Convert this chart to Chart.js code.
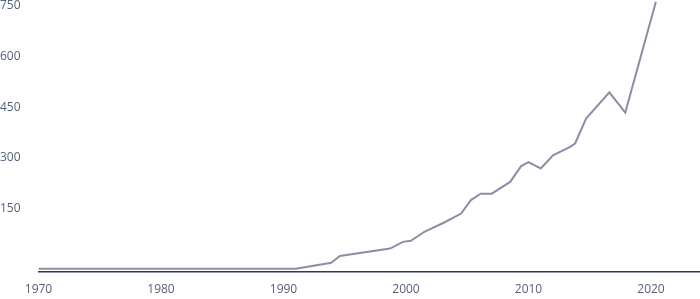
<!DOCTYPE html>
<html>
<head>
<meta charset="utf-8">
<script src="https://cdn.jsdelivr.net/npm/chart.js@4.4.1/dist/chart.umd.min.js"></script>
<style>
  html, body { margin: 0; padding: 0; background: #fff; }
  #wrap { width: 700px; height: 299px; }
</style>
</head>
<body>
<div id="wrap"><canvas id="myChart" width="700" height="299"></canvas></div>
<script>
// values
const years = [1970, 1991, 1993.9, 1994.6, 1998.7, 1999.75, 2000.4, 2001.5, 2003.2, 2004.5,
  2005.3, 2006.1, 2007.0, 2008.5, 2009.4, 2010.0, 2011.0, 2012.0, 2013.4, 2013.8,
  2014.7, 2016.6, 2017.9, 2020.4];
const values = [-30, -30, -12, 8, 30, 50, 53, 80, 109, 134,
  174, 193, 193, 228, 275, 287, 268, 307, 332, 342,
  416, 494, 434, 763];
const xTicks = [1970, 1980, 1990, 2000, 2010, 2020];
const yTicks = [150, 300, 450, 600, 750];

const points = years.map((y, i) => ({ x: y, y: values[i] }));
const labelColor = '#56607a';

const ctx = document.getElementById('myChart').getContext('2d');
new Chart(ctx, {
  type: 'line',
  data: {
    datasets: [{
      data: points,
      borderColor: '#8a8fa5',
      borderWidth: 2,
      pointRadius: 0,
      tension: 0,
      fill: false
    }]
  },
  options: {
    responsive: false,
    animation: false,
    layout: { padding: 0 },
    plugins: { legend: { display: false }, tooltip: { enabled: false } },
    scales: {
      x: {
        type: 'linear',
        min: 1970,
        max: 2024,
        grid: { display: false, drawTicks: false },
        border: { display: true, color: '#2f3752', width: 1.5 },
        afterBuildTicks: s => { s.ticks = xTicks.map(v => ({ value: v })); },
        afterFit: s => { s.height = 27.5; s.paddingLeft = 0; s.paddingRight = 0; },
        ticks: {
          padding: 11,
          maxRotation: 0,
          color: labelColor,
          font: { family: 'Open Sans', size: 12 },
          callback: v => String(v)
        }
      },
      y: {
        min: -38,
        max: 768,
        grid: { display: false, drawTicks: false },
        border: { display: false },
        afterBuildTicks: s => { s.ticks = yTicks.map(v => ({ value: v })); },
        afterFit: s => { s.width = 38.5; s.paddingTop = 0; s.paddingBottom = 0; },
        ticks: {
          crossAlign: 'far',
          padding: 0,
          color: labelColor,
          font: { family: 'Open Sans', size: 12 },
          callback: v => String(v)
        }
      }
    }
  }
});
</script>
</body>
</html>
